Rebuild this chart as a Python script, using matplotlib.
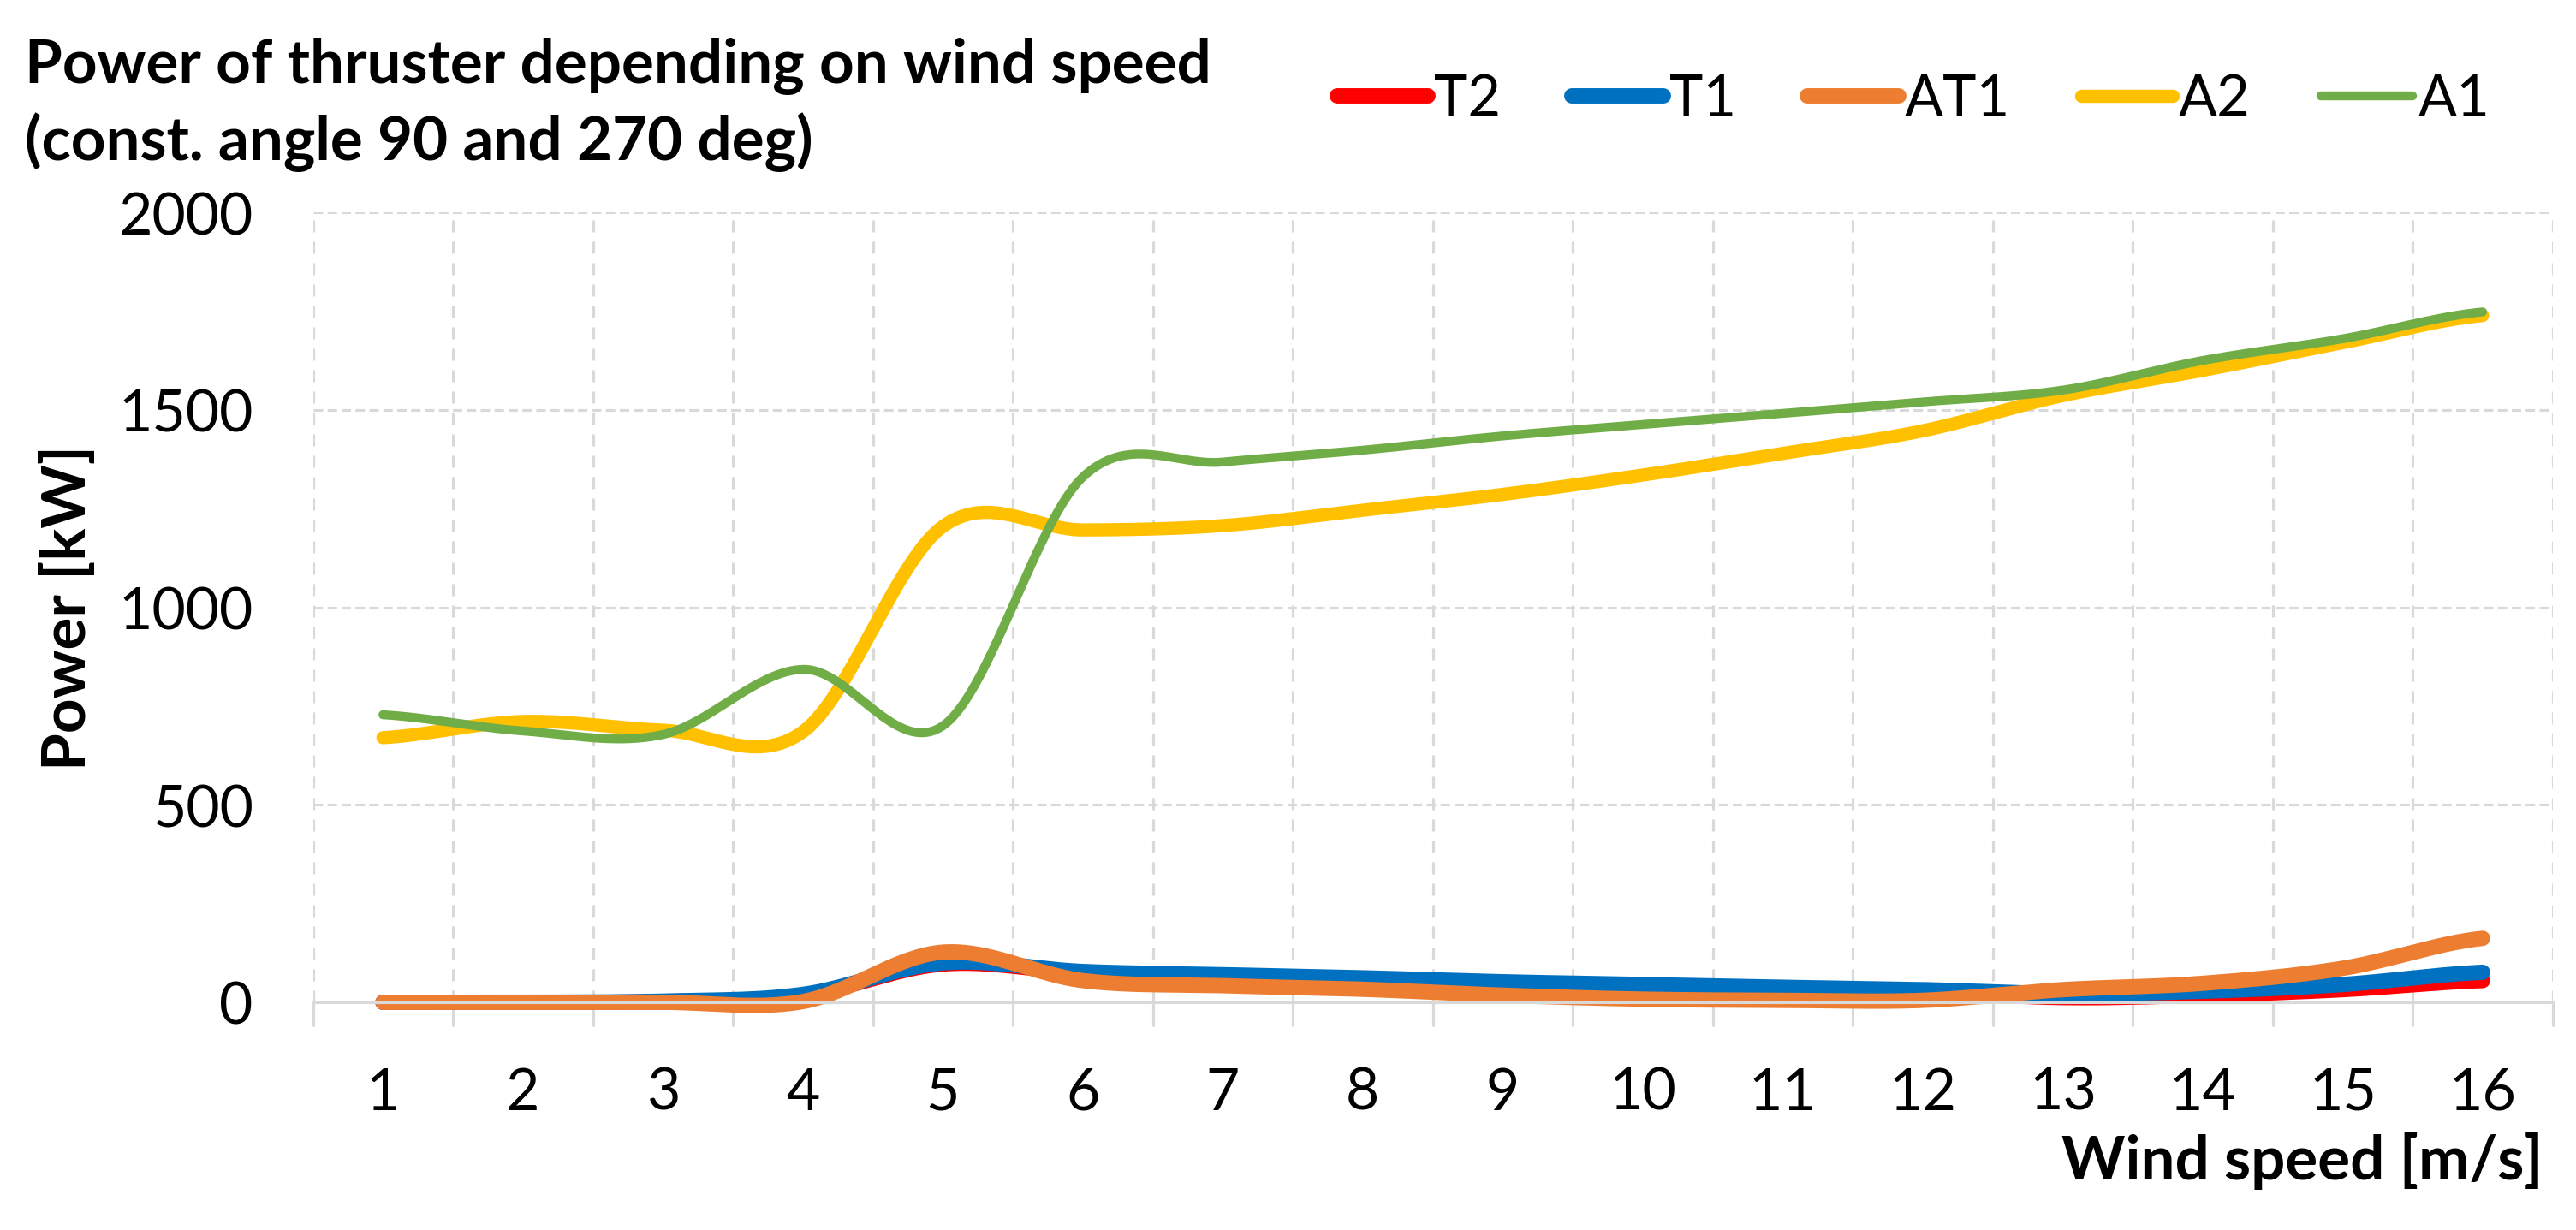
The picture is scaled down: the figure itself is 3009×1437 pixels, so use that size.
import numpy as np
import matplotlib
matplotlib.use('Agg')
import matplotlib.pyplot as plt

plt.rcParams['font.family'] = ['Lato', 'DejaVu Sans']

# wind speed categories [m/s]
wind = list(range(1, 17))

# power of thruster [kW]
t2 = [0, 0, 2, 18, 97, 75, 67, 58, 50, 43, 36, 28, 12, 18, 32, 55]
t1 = [0, 0, 3, 20, 100, 78, 70, 62, 52, 45, 38, 32, 22, 28, 45, 76]
at1 = [0, 0, 0, 2, 127, 55, 42, 33, 18, 8, 5, 5, 32, 48, 86, 162]
a2 = [670, 711, 689, 685, 1205, 1196, 1207, 1246, 1286, 1335, 1390, 1447, 1536, 1600, 1670, 1739]
a1 = [728, 687, 678, 843, 700, 1330, 1368, 1398, 1434, 1463, 1491, 1520, 1550, 1625, 1680, 1748]

series = [('T2', t2, '#FF0000', 4.3),
          ('T1', t1, '#0070C0', 4.3),
          ('AT1', at1, '#ED7D31', 4.3),
          ('A2', a2, '#FFC000', 3.7),
          ('A1', a1, '#70AD47', 2.5)]


def smooth(x, y, n=40):
    # Catmull-Rom curve through the points, like Excel's "smoothed line"
    x = np.asarray(x, float)
    y = np.asarray(y, float)
    m = np.empty_like(y)
    m[1:-1] = (y[2:] - y[:-2]) / 2
    m[0] = (y[1] - y[0]) / 2
    m[-1] = (y[-1] - y[-2]) / 2
    t = np.linspace(0, 1, n)
    h00 = 2 * t**3 - 3 * t**2 + 1
    h10 = t**3 - 2 * t**2 + t
    h01 = -2 * t**3 + 3 * t**2
    h11 = t**3 - t**2
    xs, ys = [], []
    for i in range(len(x) - 1):
        dx = x[i + 1] - x[i]
        xs.append(x[i] + t * dx)
        ys.append(h00 * y[i] + h10 * m[i] * dx + h01 * y[i + 1] + h11 * m[i + 1] * dx)
    return np.concatenate(xs), np.concatenate(ys)


fig = plt.figure(figsize=(10.03, 4.793), dpi=300)
ax = fig.add_axes([0.1215, 0.185, 0.8694, 0.6418])

handles = []
for name, vals, col, lw in series:
    xs, ys = smooth(wind, vals)
    ln, = ax.plot(xs, ys, color=col, lw=lw, label=name, clip_on=False,
                  solid_capstyle='round')
    handles.append(ln)

grid_col = '#d9d9d9'
ax.set_xlim(0.5, 16.5)
ax.set_ylim(0, 2000)
ax.set_xticks(wind)
ax.set_xticks(np.arange(0.5, 17, 1), minor=True)
ax.set_yticks([0, 500, 1000, 1500, 2000])
ax.tick_params(axis='x', which='major', length=0, pad=18, labelsize=16.3)
ax.tick_params(axis='x', which='minor', length=6.7, width=0.75, color=grid_col)
ax.tick_params(axis='y', length=0, pad=16.8, labelsize=16.3)
ax.grid(axis='x', which='minor', color=grid_col, lw=0.75, ls=(0, (4.5, 3.5)))
ax.grid(axis='y', which='major', color=grid_col, lw=0.75, ls=(0, (3.5, 1.7)))
ax.set_axisbelow(True)
for s in ['top', 'left', 'right']:
    ax.spines[s].set_visible(False)
ax.spines['bottom'].set_color(grid_col)
ax.spines['bottom'].set_linewidth(0.75)

fig.text(0.0096, 0.9325, 'Power of thruster depending on wind speed',
         fontsize=17, fontweight='bold', va='baseline')
fig.text(0.0096, 0.870, '(const. angle 90 and 270 deg)',
         fontsize=17, fontweight='bold', va='baseline')
fig.text(0.0262, 0.506, 'Power [kW]', rotation=90, fontsize=17,
         fontweight='bold', ha='center', va='center')
fig.text(0.9874, 0.0563, 'Wind speed [m/s]', fontsize=17,
         fontweight='bold', ha='right', va='center')

fig.legend(handles, [h.get_label() for h in handles], loc='center left',
           bbox_to_anchor=(0.519, 0.9186), ncol=5, frameon=False,
           fontsize=16, handlelength=1.6, handletextpad=0.1,
           columnspacing=1.25, borderpad=0, borderaxespad=0)

fig.savefig('out.png', dpi=300)
